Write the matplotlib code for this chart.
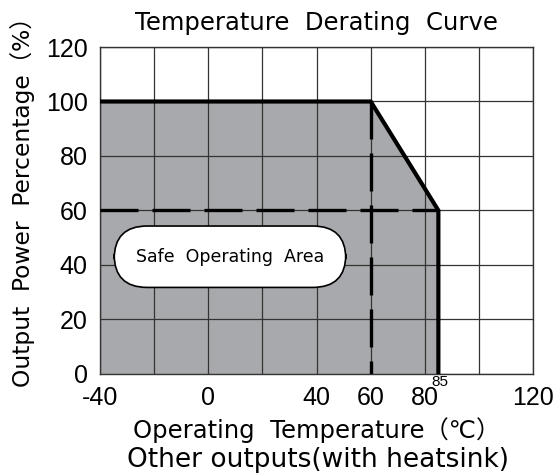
import matplotlib
matplotlib.use("Agg")
from matplotlib import pyplot as plt

# derating curve (temperature in C, output power in %)
curve_t = [-40, 60, 85, 85]
curve_p = [100, 100, 60, 0]
area_t = [-40, -40, 60, 85, 85]
area_p = [0, 100, 100, 60, 0]

x_ticks = [-40, -20, 0, 20, 40, 60, 80, 100, 120]
x_labels = ["-40", "", "0", "", "40", "60", "80", "", "120"]
y_ticks = [0, 20, 40, 60, 80, 100, 120]

knee_t, knee_p = 60, 60
max_t = 85

label_font = ["DejaVu Sans", "Noto Sans CJK SC"]

fig = plt.figure(figsize=(5.53, 4.75), dpi=100)
ax = fig.add_axes([0.181, 0.213, 0.783, 0.688])

ax.fill(area_t, area_p, color="#a8a9ac", zorder=1, lw=0)
ax.set_axisbelow(False)
ax.grid(True, color="#333333", lw=0.9, zorder=2)

# dashed guides
dash = (0, (11.4, 4.2))
ax.plot([-40, max_t], [knee_p, knee_p], color="black", lw=2.4, ls=dash, zorder=3)
ax.plot([knee_t, knee_t], [100, 0], color="black", lw=2.4, ls=dash, zorder=3)
ax.plot(curve_t, curve_p, color="black", lw=3.0, zorder=4, solid_joinstyle="miter")

ax.set_xlim(-40, 120)
ax.set_ylim(0, 120)
ax.set_xticks(x_ticks)
ax.set_xticklabels(x_labels)
ax.set_yticks(y_ticks)
ax.tick_params(length=0, labelsize=18)
ax.tick_params(axis="x", pad=9)
ax.tick_params(axis="y", pad=9)
for lbl in ax.get_xticklabels() + ax.get_yticklabels():
    lbl.set_fontfamily("Liberation Sans")
for s in ax.spines.values():
    s.set_color("#333333")
    s.set_linewidth(1.0)

ax.text(max_t + 0.6, -0.3, "85", ha="center", va="top", fontsize=11,
        family="Liberation Sans", zorder=5)

ax.text(8, 43, "Safe  Operating  Area", ha="center", va="center", fontsize=12.5,
        family="DejaVu Sans", zorder=6,
        bbox=dict(boxstyle="round,pad=1.25,rounding_size=1.9", fc="white",
                  ec="black", lw=1.2))

ax.set_title("Temperature  Derating  Curve", fontsize=17.5, family=label_font, pad=12)
ax.set_xlabel("Operating  Temperature（℃）", fontsize=17.5, family=label_font, labelpad=5)
ax.set_ylabel("Output  Power  Percentage（%）", fontsize=16.8, family=label_font)
ax.yaxis.set_label_coords(-0.15, 0.544)
fig.text(0.575, 0.032, "Other outputs(with heatsink)", ha="center", va="center",
         fontsize=19, family=label_font)

fig.savefig("out.png", dpi=100)
